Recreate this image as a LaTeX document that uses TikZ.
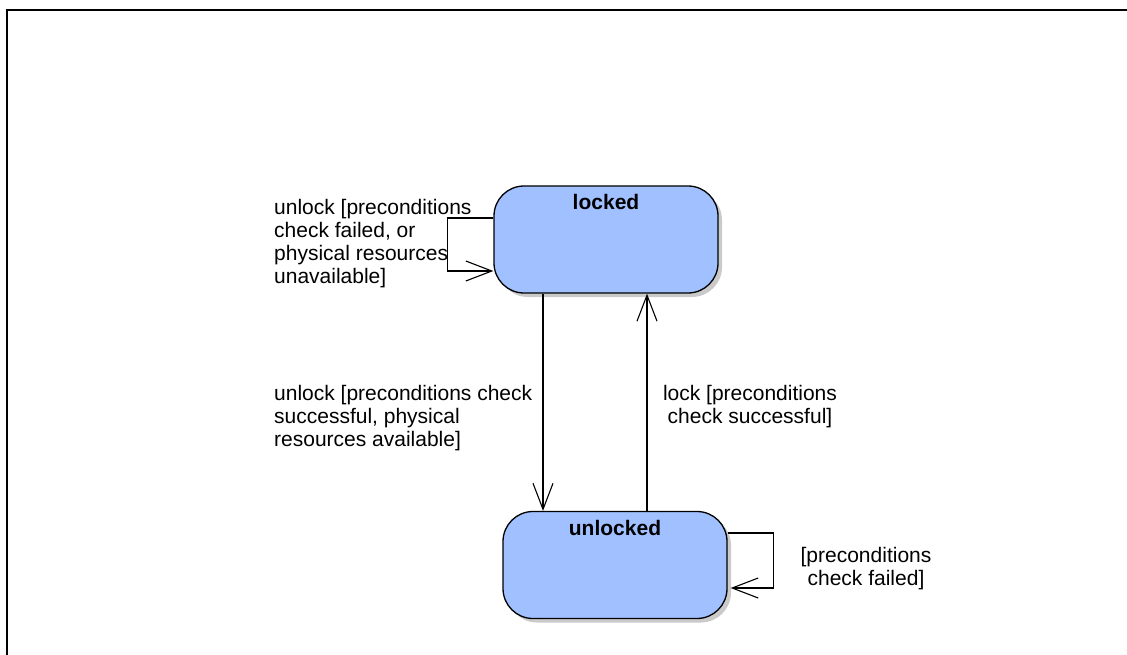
\documentclass[tikz,border=0pt]{standalone}
\usepackage{fontspec}
\setmainfont{Liberation Sans}
\usepackage{xcolor}
\usetikzlibrary{positioning,arrows.meta,shadows}
\definecolor{StateBlue}{RGB}{160,192,255}

\begin{document}
\begin{tikzpicture}[x=1pt,y=-1pt]
	\tikzset{
		statenode/.style={
			shape=rectangle,
			rounded corners=30pt,
			draw=black,
			line width=1.3pt,
			fill=StateBlue,
			drop shadow={shadow xshift=4pt, shadow yshift=-4pt, fill=black!35, opacity=0.6},
			minimum width=224pt,
			inner sep=0pt,
			text height=24pt,
			text depth=83pt,
			font=\fontsize{21}{23}\selectfont\bfseries
		},
		translabel/.style={inner sep=0pt, font=\fontsize{21}{23}\selectfont},
		transedge/.style={draw=black, line width=1.1pt,
			-{Straight Barb[length=26pt,width=20pt,line width=1.1pt]}}
	}
	\useasboundingbox (0,0) rectangle (1127,655);
	
	% frame
	\draw[line width=1.5pt] (1127,10) -- (7,10) -- (7,655);
	
	% states
	\node[statenode] (locked) at (606,239.5) {locked};
	\node[statenode] (unlocked) at (615,565) {unlocked};
	
	% transitions
	\draw[transedge] ([yshift=21.5pt]locked.west) -- ++(-46,0) |- ([yshift=-31.5pt]locked.west);
	\draw[transedge] ([xshift=-63pt]locked.south) -- ([xshift=-72pt]unlocked.north);
	\draw[transedge] ([xshift=32pt]unlocked.north) -- ([xshift=41pt]locked.south);
	\draw[transedge] ([yshift=32pt]unlocked.east) -- ++(46,0) |- ([xshift=3pt,yshift=-23pt]unlocked.east);
	
	% labels
	\node[translabel, anchor=north west, align=left] (lockedloop) at (274,199)
		{unlock [preconditions\\check failed, or\\physical resources\\unavailable]};
	\node[translabel, anchor=north west, align=left] (unlockdown) at (274,385)
		{unlock [preconditions check\\successful, physical\\resources available]};
	\node[translabel, anchor=north, align=center] (lockup) at (750,385)
		{lock [preconditions\\check successful]};
	\node[translabel, anchor=north, align=center] (unlockedloop) at (866,547)
		{[preconditions\\check failed]};
\end{tikzpicture}
\end{document}
